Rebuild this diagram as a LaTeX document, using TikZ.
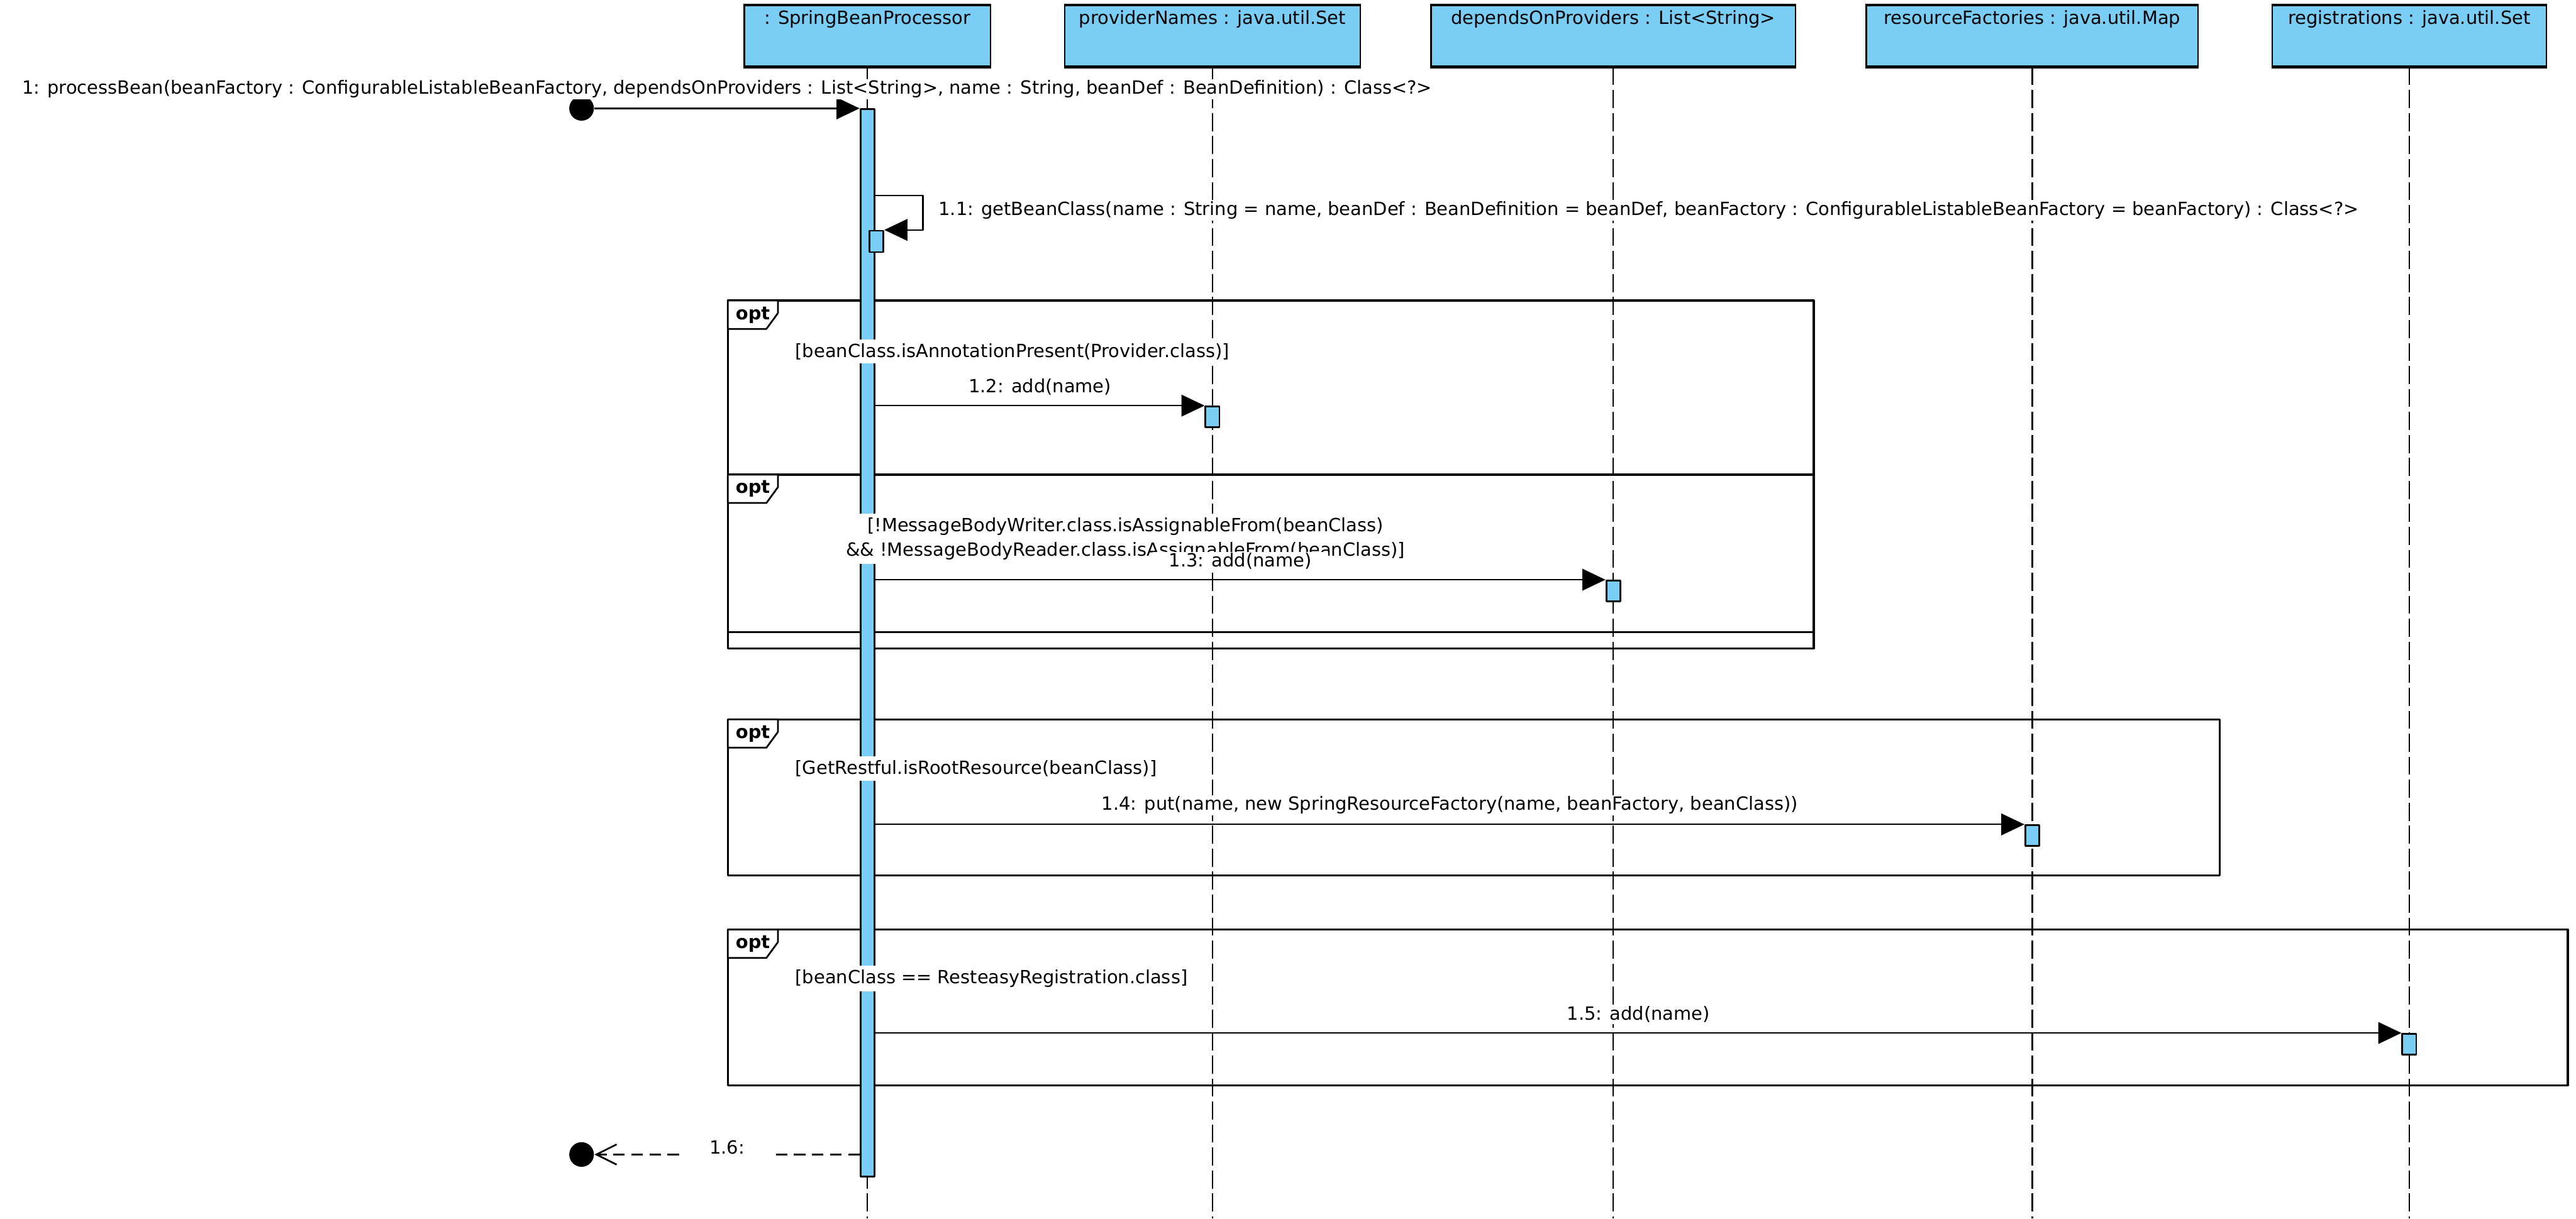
\documentclass[tikz,border=0pt]{standalone}
\usepackage{fontspec}
\setmainfont{DejaVu Sans}
\usetikzlibrary{arrows.meta}
\definecolor{lifeblue}{RGB}{122,206,245}
\newcommand{\umlsize}{\fontsize{6.3pt}{8.5pt}\selectfont}
\tikzset{
  lifebox/.style={draw, fill=lifeblue, line width=0.5pt, anchor=north, inner sep=0pt,
    minimum height=0.74cm, text height=0.23cm, text depth=0.51cm},
  lifeline/.style={line width=0.5pt, dash pattern=on 0.22cm off 0.06cm},
  act/.style={draw, fill=lifeblue, line width=0.6pt, anchor=north, inner sep=0pt, minimum width=0.17cm},
  frame/.style={line width=0.7pt},
  tag/.style={draw, fill=white, line width=0.6pt},
  tagtext/.style={anchor=base west, inner sep=0pt, font=\umlsize\bfseries},
  guard/.style={fill=white, inner xsep=1pt, inner ysep=0.05cm},
  lbl/.style={fill=white, inner xsep=0.2cm, inner ysep=0.5pt},
  msg/.style={line width=0.5pt, -{Triangle[length=8pt, width=7.5pt]}},
  ret/.style={line width=0.5pt, dash pattern=on 0.14cm off 0.08cm, -{Straight Barb[length=7pt, width=7pt, line width=0.6pt]}},
  dot/.style={circle, fill=black, inner sep=0pt, minimum size=0.3cm}
}
\begin{document}
\begin{tikzpicture}[x=0.02cm, y=-0.02cm, font=\umlsize, line join=round]
  \useasboundingbox (0,0) rectangle (1568,742);
  % lifeline heads
  \node[lifebox, minimum width=3cm] (sbp) at (528,3) {: SpringBeanProcessor};
  \node[lifebox, minimum width=3.6cm] (pn) at (738,3) {providerNames : java.util.Set};
  \node[lifebox, minimum width=4.44cm] (dop) at (982,3) {dependsOnProviders : List<String>};
  \node[lifebox, minimum width=4.04cm] (rf) at (1237,3) {resourceFactories : java.util.Map};
  \node[lifebox, minimum width=3.34cm] (reg) at (1466.5,3) {registrations : java.util.Set};
  \foreach \n in {sbp,pn,dop,rf,reg}{
    \draw[lifeline] (\n.south) -- (\n.south |- 0,742);
    \draw[line width=1pt] (\n.north west) -- (\n.north east) (\n.south west) -- (\n.south east);
  }
  % opt frames
  \draw[frame] (443,183) rectangle (1104,395) (443,289) -- (1104,289) (443,385) -- (1104,385);
  \draw[frame] (443,438) rectangle (1351,533);
  \draw[frame] (443,566) rectangle (1563,661);
  \foreach \y in {183,289,438,566}{
    \draw[tag] (443,\y) -- ++(30.5,0) -- ++(0,7.7) -- ++(-7,9.6) -- ++(-23.5,0) -- cycle;
    \node[tagtext] (opt\y) at (447.5,\y+11.5) {opt};
  }
  % activations
  \node[act, minimum height=13cm] (a1) at (sbp.south |- 0,66) {};
  \node[act, minimum height=0.26cm] (a11) at (533.5,140) {};
  \node[act, minimum height=0.25cm] (a12) at (pn.south |- 0,247) {};
  \node[act, minimum height=0.25cm] (a13) at (dop.south |- 0,353) {};
  \node[act, minimum height=0.25cm] (a14) at (rf.south |- 0,502) {};
  \node[act, minimum height=0.25cm] (a15) at (reg.south |- 0,629) {};
  % guards
  \node[guard, anchor=west] (g1) at (482,214) {[beanClass.isAnnotationPresent(Provider.class)]};
  \node[guard, align=center] (g2) at (685,328) {[!MessageBodyWriter.class.isAssignableFrom(beanClass)\\\&\& !MessageBodyReader.class.isAssignableFrom(beanClass)]};
  \node[guard, anchor=west] (g3) at (482,468) {[GetRestful.isRootResource(beanClass)]};
  \node[guard, anchor=west] (g4) at (482,596) {[beanClass == ResteasyRegistration.class]};
  % messages
  \node[dot] (init) at (354,66) {};
  \draw[msg] (init) -- (a1.north west)
    node[lbl, midway, above=0.1cm] (l1) {1: processBean(beanFactory : ConfigurableListableBeanFactory, dependsOnProviders : List<String>, name : String, beanDef : BeanDefinition) : Class<?>};
  \draw[msg] (a1.east |- 0,119) -- ++(29,0) |- (a11.north east);
  \node[lbl, anchor=west, inner xsep=2pt] (l11) at (567.5,128) {1.1: getBeanClass(name : String = name, beanDef : BeanDefinition = beanDef, beanFactory : ConfigurableListableBeanFactory = beanFactory) : Class<?>};
  \draw[msg] (a1.east |- a12.north) -- (a12.north west) node[lbl, midway, above=0.1cm] (l12) {1.2: add(name)};
  \draw[msg] (a1.east |- a13.north) -- (a13.north west) node[lbl, midway, above=0.1cm] (l13) {1.3: add(name)};
  \draw[msg] (a1.east |- a14.north) -- (a14.north west) node[lbl, midway, above=0.1cm] (l14) {1.4: put(name, new SpringResourceFactory(name, beanFactory, beanClass))};
  \draw[msg] (a1.east |- a15.north) -- (a15.north west) node[lbl, midway, above=0.1cm] (l15) {1.5: add(name)};
  % return
  \node[dot] (fin) at (354,703) {};
  \draw[ret] (a1.west |- 0,703) -- (fin) node[lbl, midway, yshift=0.09cm, inner xsep=0.3cm, inner ysep=2pt] (l16) {1.6:};
\end{tikzpicture}
\end{document}
